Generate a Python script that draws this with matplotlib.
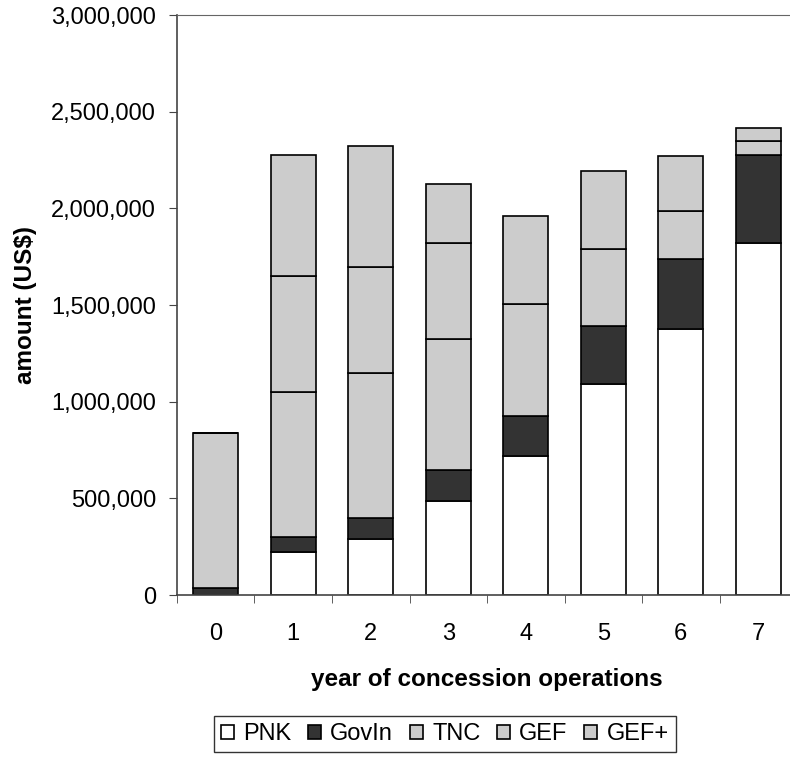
import numpy as np
import matplotlib
matplotlib.use("Agg")
import matplotlib.pyplot as plt
from matplotlib.ticker import FuncFormatter

years = [0, 1, 2, 3, 4, 5, 6, 7]
series = ["PNK", "GovIn", "TNC", "GEF", "GEF+"]
pnk = [0, 221000, 291000, 488000, 722000, 1090000, 1379000, 1822000]
govin = [38000, 81000, 106000, 159000, 207000, 303000, 359000, 457000]
tnc = [798000, 750000, 750000, 677000, 0, 0, 0, 0]
gef = [0, 600000, 548000, 500000, 576000, 398000, 250000, 69000]
gef_plus = [0, 627000, 629000, 304000, 457000, 402000, 284000, 71000]
colors = ["#ffffff", "#333333", "#cccccc", "#cccccc", "#cccccc"]

plt.rcParams["font.family"] = ["Liberation Sans", "DejaVu Sans"]

fig = plt.figure(figsize=(7.9, 7.6), dpi=100)
ax = fig.add_axes([0.224, 0.217, 0.785, 0.763])

x = np.arange(len(years))
bottom = np.zeros(len(years))
for name, vals, c in zip(series, [pnk, govin, tnc, gef, gef_plus], colors):
    vals = np.array(vals, dtype=float)
    ax.bar(x, vals, 0.58, bottom=bottom, color=c, edgecolor="black",
           linewidth=1.2, label=name)
    bottom += vals

ax.set_ylim(0, 3000000)
ax.set_xlim(-0.5, len(years) - 0.5)
ax.set_yticks(np.arange(0, 3000001, 500000))
ax.yaxis.set_major_formatter(FuncFormatter(lambda v, p: "{:,.0f}".format(v)))
ax.set_xticks(x)
ax.set_xticklabels([str(y) for y in years])
ax.set_xticks(np.arange(-0.5, len(years), 1), minor=True)
ax.tick_params(axis="x", which="major", length=0, pad=20, labelsize=17)
ax.tick_params(axis="x", which="minor", length=6, color="#444444")
ax.tick_params(axis="y", length=6, color="#444444", labelsize=17, pad=9)

for s in ["left", "bottom"]:
    ax.spines[s].set_color("#444444")
    ax.spines[s].set_linewidth(1.2)
ax.spines["top"].set_color("#666666")
ax.spines["right"].set_visible(False)

ax.set_xlabel("year of concession operations", fontsize=17.5, fontweight="bold", labelpad=17)
ax.set_ylabel("amount (US$)", fontsize=17.5, fontweight="bold", labelpad=10)

leg = fig.legend(loc="center", bbox_to_anchor=(0.563, 0.034), ncol=5, fontsize=17,
                 frameon=True, fancybox=False, handlelength=0.55, handleheight=0.55,
                 handletextpad=0.4, columnspacing=0.7, borderpad=0.3,
                 borderaxespad=0)
leg.get_frame().set_edgecolor("black")
leg.get_frame().set_linewidth(1.0)

fig.savefig("out.png", dpi=100)
